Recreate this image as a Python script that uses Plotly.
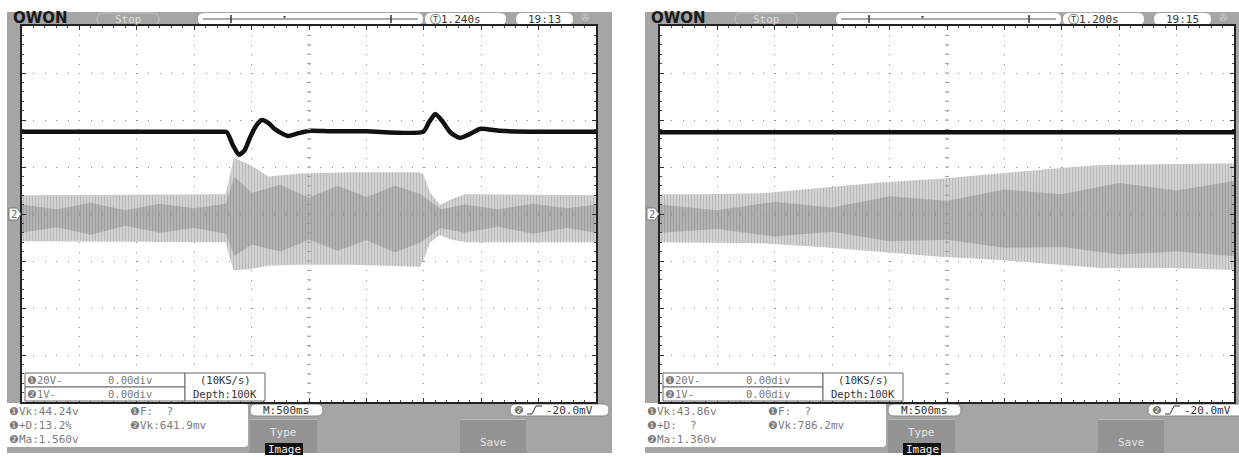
import plotly.graph_objects as go
import numpy as np

W, H = 1239, 457

# ---- waveform data (x in divisions, 500 ms/div; y in divisions) ----
# Panel A: channel 1 (20 V/div) transient trace
a_ch1_x = [0, 1.5, 3.0, 3.5, 3.57, 3.68, 3.78, 3.88, 3.97, 4.08, 4.18, 4.3, 4.41, 4.63, 4.82, 5.02, 5.37, 6.0, 6.99,
           7.09, 7.2, 7.32, 7.46, 7.63, 7.8, 7.98, 8.33, 9.0, 10]
a_ch1_y = [1.75, 1.75, 1.75, 1.75, 1.74, 1.45, 1.26, 1.36, 1.62, 1.88, 2.0, 1.93, 1.8, 1.66, 1.72, 1.77, 1.76, 1.76, 1.75,
           1.95, 2.13, 1.98, 1.74, 1.62, 1.7, 1.81, 1.77, 1.75, 1.75]
# Panel A: channel 2 (1 V/div) oscillation envelope
a_ch2_x = [0, 3.55, 3.6, 3.69, 3.97, 4.29, 4.84, 5.71, 6.93, 6.99, 7.11, 7.28, 7.49, 7.72, 10]
a_ch2_top = [0.40, 0.42, 0.7, 1.19, 1.05, 0.8, 0.86, 0.89, 0.89, 0.85, 0.45, 0.19, 0.32, 0.42, 0.40]
a_ch2_bot = [-0.58, -0.6, -0.85, -1.2, -1.17, -1.1, -1.08, -1.08, -1.12, -1.0, -0.6, -0.45, -0.55, -0.6, -0.6]
# Panel A: denser (beating) core of the channel 2 band
a_core_x = [0, 0.6, 1.2, 1.8, 2.4, 3.0, 3.55, 3.7, 4.0, 4.5, 5.0, 5.5, 6.0, 6.5, 6.95, 7.3, 7.7, 8.3, 8.9, 9.5, 10]
a_core_top = [0.2, 0.1, 0.24, 0.08, 0.22, 0.12, 0.22, 0.8, 0.45, 0.62, 0.35, 0.6, 0.36, 0.6, 0.42, 0.1, 0.2, 0.1, 0.22, 0.12, 0.2]
a_core_bot = [-0.4, -0.28, -0.44, -0.25, -0.4, -0.3, -0.42, -0.9, -0.65, -0.8, -0.55, -0.78, -0.56, -0.82, -0.6, -0.3, -0.4, -0.27, -0.42, -0.3, -0.4]

# Panel B: channel 1 flat trace, channel 2 growing envelope
b_ch1_x = [0, 10]
b_ch1_y = [1.74, 1.74]
b_ch2_x = [0, 0.7, 1.74, 2.79, 3.83, 4.88, 5.92, 6.97, 7.67, 8.89, 10]
b_ch2_top = [0.42, 0.42, 0.44, 0.55, 0.67, 0.75, 0.87, 0.98, 1.04, 1.06, 1.08]
b_ch2_bot = [-0.6, -0.6, -0.62, -0.7, -0.81, -0.91, -0.98, -1.08, -1.15, -1.15, -1.19]
b_core_x = [0, 1, 2, 3, 4, 5, 6, 7, 8, 9, 10]
b_core_top = [0.2, 0.08, 0.26, 0.14, 0.38, 0.28, 0.52, 0.42, 0.66, 0.5, 0.7]
b_core_bot = [-0.4, -0.32, -0.48, -0.38, -0.58, -0.55, -0.72, -0.7, -0.86, -0.8, -0.9]

# ---- readouts ----
panels = [
    dict(dx=0, trig_time="1.240s", clock="19:13",
         meas=["❶Vk:44.24v", "❶+D:13.2%", "❷Ma:1.560v"], meas2=["❶F:  ?", "❷Vk:641.9mv"],
         ch1=(a_ch1_x, a_ch1_y), ch2=(a_ch2_x, a_ch2_top, a_ch2_bot), core=(a_core_x, a_core_top, a_core_bot)),
    dict(dx=638, trig_time="1.200s", clock="19:15",
         meas=["❶Vk:43.86v", "❶+D:  ?", "❷Ma:1.360v"], meas2=["❶F:  ?", "❷Vk:786.2mv"],
         ch1=(b_ch1_x, b_ch1_y), ch2=(b_ch2_x, b_ch2_top, b_ch2_bot), core=(b_core_x, b_core_top, b_core_bot)),
]

FRAME = "#a5a5a5"
BTN = "#939393"
MONO = "DejaVu Sans Mono"


def X(p):
    return p / W


def Y(p):
    return 1 - p / H


def rrect(x0, y0, x1, y1, r):
    # rounded rectangle path in paper coordinates (pixel inputs)
    pts = (f"M{X(x0 + r)},{Y(y0)} L{X(x1 - r)},{Y(y0)} Q{X(x1)},{Y(y0)} {X(x1)},{Y(y0 + r)} "
           f"L{X(x1)},{Y(y1 - r)} Q{X(x1)},{Y(y1)} {X(x1 - r)},{Y(y1)} "
           f"L{X(x0 + r)},{Y(y1)} Q{X(x0)},{Y(y1)} {X(x0)},{Y(y1 - r)} "
           f"L{X(x0)},{Y(y0 + r)} Q{X(x0)},{Y(y0)} {X(x0 + r)},{Y(y0)} Z")
    return pts


shapes = []
annots = []


def rect(x0, y0, x1, y1, fill, line=None, lw=0, layer="below"):
    shapes.append(dict(type="rect", xref="paper", yref="paper", x0=X(x0), x1=X(x1), y0=Y(y1), y1=Y(y0),
                       fillcolor=fill, line=dict(color=line or fill, width=lw), layer=layer))


def pill(x0, y0, x1, y1, fill, line=None, lw=0, r=6, layer="below"):
    shapes.append(dict(type="path", xref="paper", yref="paper", path=rrect(x0, y0, x1, y1, r),
                       fillcolor=fill, line=dict(color=line or fill, width=lw), layer=layer))


def seg(x0, y0, x1, y1, color, w=1, layer="above"):
    shapes.append(dict(type="line", xref="paper", yref="paper", x0=X(x0), x1=X(x1), y0=Y(y0), y1=Y(y1),
                       line=dict(color=color, width=w), layer=layer))


def text(x, y, s, size=11, color="#6c6c6c", anchor="left", family=MONO, bg=None):
    annots.append(dict(xref="paper", yref="paper", x=X(x), y=Y(y), text=s, showarrow=False,
                       xanchor=anchor, yanchor="middle", font=dict(family=family, size=size, color=color),
                       bgcolor=bg, borderpad=0))


fig = go.Figure()

for i, p in enumerate(panels):
    dx = p["dx"]
    sx0, sx1, sy0, sy1 = 22 + dx, 596 + dx, 26, 402
    # instrument bezel and screen
    rect(7 + dx, 12, 612 + dx, 453, FRAME)
    rect(sx0, sy0, sx1, sy1, "white")

    # top status bar
    text(12 + dx, 18, "<b>OWON</b>", size=15, color="#1a1a1a", family="DejaVu Sans")
    pill(97 + dx, 13, 159 + dx, 25, FRAME, line="#c4c4c4", lw=1, r=6)
    text(128 + dx, 19, "Stop", size=11, color="#dedede", anchor="center")
    pill(198 + dx, 13, 423 + dx, 25, "white", r=6)
    seg(203 + dx, 19, 418 + dx, 19, "#555", 1)
    seg(231 + dx, 15, 231 + dx, 23, "#333", 1.5)
    seg(391 + dx, 15, 391 + dx, 23, "#333", 1.5)
    text(284 + dx, 16, "▾", size=6, color="#555", anchor="center", family="DejaVu Sans")
    pill(425 + dx, 13, 506 + dx, 25, "white", r=6)
    text(429 + dx, 19, "Ⓣ" + p["trig_time"], size=11, color="#333", family="DejaVu Sans Mono")
    pill(516 + dx, 13, 573 + dx, 25, "white", r=6)
    text(544 + dx, 19, p["clock"], size=11, color="#333", anchor="center")
    text(585 + dx, 18, "✇", size=10, color="#cfcfcf", anchor="center", family="DejaVu Sans")

    # channel/timebase info boxes inside the screen
    rect(25 + dx, 373, 185 + dx, 387, "white", line="#666", lw=1, layer="above")
    rect(25 + dx, 387, 185 + dx, 401, "white", line="#666", lw=1, layer="above")
    rect(185 + dx, 373, 265 + dx, 401, "white", line="#666", lw=1, layer="above")
    text(26 + dx, 380, "❶20V-", size=10.5, color="#7a7a7a")
    text(107 + dx, 380, "0.00div", size=10.5, color="#7a7a7a")
    text(26 + dx, 394, "❷1V-", size=10.5, color="#7a7a7a")
    text(107 + dx, 394, "0.00div", size=10.5, color="#7a7a7a")
    text(225 + dx, 380, "(10KS/s)", size=10.5, color="#333", anchor="center")
    text(225 + dx, 394, "Depth:100K", size=10.5, color="#333", anchor="center")

    # measurement readout panel
    pill(7 + dx, 403, 248 + dx, 447, "white", r=4)
    rect(7 + dx, 403, 20 + dx, 447, "white")
    for k, s in enumerate(p["meas"]):
        text(8 + dx, 411 + 14 * k, s, size=11, color="#7a7a7a")
    for k, s in enumerate(p["meas2"]):
        text(129 + dx, 411 + 14 * k, s, size=11, color="#7a7a7a")

    # timebase and trigger pills
    pill(250 + dx, 404, 323 + dx, 416, "white", line="#888", lw=1, r=6)
    text(286 + dx, 410, "M:500ms", size=11, color="#333", anchor="center")
    pill(510 + dx, 404, 609 + dx, 416, "white", line="#888", lw=1, r=6)
    text(513 + dx, 410, "❷", size=11, color="#777", family="DejaVu Sans")
    shapes.append(dict(type="path", xref="paper", yref="paper",
                       path=f"M{X(527 + dx)},{Y(414)} L{X(532 + dx)},{Y(414)} L{X(536 + dx)},{Y(406)} L{X(542 + dx)},{Y(406)}",
                       line=dict(color="#333", width=1), layer="above"))
    text(545 + dx, 410, "-20.0mV", size=11, color="#333")

    # soft keys
    rect(250 + dx, 419, 317 + dx, 453, BTN)
    seg(250 + dx, 419.5, 317 + dx, 419.5, "#b8b8b8", 1, layer="below")
    text(283 + dx, 432, "Type", size=11, color="#e4e4e4", anchor="center")
    rect(265 + dx, 443, 303 + dx, 455, "#111")
    text(284 + dx, 449, "Image", size=11, color="#f2f2f2", anchor="center")
    rect(460 + dx, 419, 526 + dx, 453, BTN)
    seg(460 + dx, 419.5, 526 + dx, 419.5, "#b8b8b8", 1, layer="below")
    text(493 + dx, 442, "Save", size=11, color="#e4e4e4", anchor="center")

    # channel 2 ground marker
    shapes.append(dict(type="path", xref="paper", yref="paper",
                       path=(f"M{X(9 + dx)},{Y(208)} L{X(17 + dx)},{Y(208)} L{X(21 + dx)},{Y(214)} "
                             f"L{X(17 + dx)},{Y(220)} L{X(9 + dx)},{Y(220)} Z"),
                       fillcolor="white", line=dict(color="#777", width=1), layer="above"))
    text(14 + dx, 214, "2", size=10, color="#666", anchor="center", family="DejaVu Sans")

    xa = "x" if i == 0 else f"x{i + 1}"
    ya = "y" if i == 0 else f"y{i + 1}"

    # channel 2 oscillation band
    cx, ct, cb = p["ch2"]
    fig.add_trace(go.Scatter(x=list(cx) + list(cx)[::-1], y=list(ct) + list(cb)[::-1], mode="lines",
                             fill="toself", fillcolor="rgba(0,0,0,0)", line=dict(width=0),
                             fillpattern=dict(shape="|", size=3, solidity=0.45, fgcolor="#989898", bgcolor="#d8d8d8"),
                             xaxis=xa, yaxis=ya, hoverinfo="skip", showlegend=False))
    kx, kt, kb = p["core"]
    fig.add_trace(go.Scatter(x=list(kx) + list(kx)[::-1], y=list(kt) + list(kb)[::-1], mode="lines",
                             fill="toself", fillcolor="rgba(0,0,0,0)", line=dict(width=0),
                             fillpattern=dict(shape="|", size=3, solidity=0.5, fgcolor="#838383", bgcolor="#b8b8b8"),
                             xaxis=xa, yaxis=ya, hoverinfo="skip", showlegend=False))
    # channel 1 trace
    c1x, c1y = p["ch1"]
    fig.add_trace(go.Scatter(x=c1x, y=c1y, mode="lines", line=dict(color="#111", width=4.5, shape="spline", smoothing=0.6),
                             xaxis=xa, yaxis=ya, hoverinfo="skip", showlegend=False))
    # centre graticule ticks
    fig.add_trace(go.Scatter(x=[5] * 41, y=np.linspace(-4, 4, 41), mode="markers",
                             marker=dict(symbol="line-ew", size=3, line=dict(width=1, color="#9a9a9a")),
                             xaxis=xa, yaxis=ya, hoverinfo="skip", showlegend=False))
    fig.add_trace(go.Scatter(x=np.linspace(0, 10, 51), y=[0] * 51, mode="markers",
                             marker=dict(symbol="line-ns", size=3, line=dict(width=1, color="#9a9a9a")),
                             xaxis=xa, yaxis=ya, hoverinfo="skip", showlegend=False))

    common = dict(showline=True, linecolor="#222", linewidth=2, mirror="ticks", ticks="inside", ticklen=4,
                  tickwidth=1, tickcolor="#333", tick0=0, dtick=1, showticklabels=False, showgrid=True,
                  gridcolor="#8c8c8c", gridwidth=1, zeroline=False, fixedrange=True,
                  minor=dict(ticks="inside", ticklen=2, dtick=0.2, tickcolor="#444", showgrid=False))
    fig.layout[("xaxis" if i == 0 else f"xaxis{i + 1}")] = dict(
        common, range=[0, 10], domain=[X(sx0), X(sx1)], griddash="1px,8.4px",
        anchor=ya)
    fig.layout[("yaxis" if i == 0 else f"yaxis{i + 1}")] = dict(
        common, range=[-4, 4], domain=[Y(sy1), Y(sy0)], griddash="1px,10.48px",
        anchor=xa)

fig.update_layout(width=W, height=H, margin=dict(l=0, r=0, t=0, b=0), paper_bgcolor="white",
                  plot_bgcolor="rgba(0,0,0,0)", shapes=shapes, annotations=annots, showlegend=False)
fig.write_html("out.html")
